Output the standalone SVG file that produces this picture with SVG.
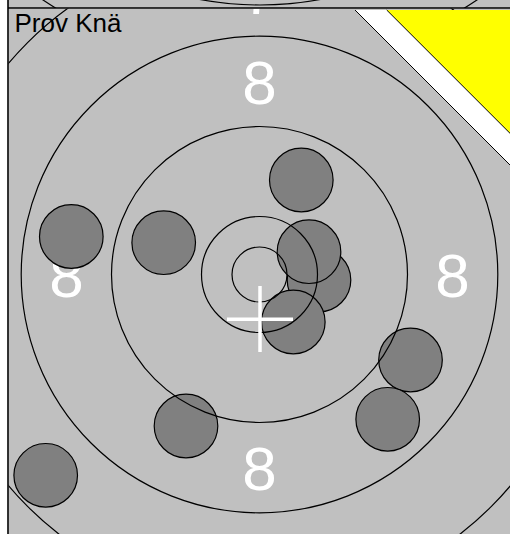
<svg xmlns="http://www.w3.org/2000/svg" width="510" height="534" viewBox="0 0 510 534">
<style>
.ring{fill:none;stroke:#000;stroke-width:1.2}
.shot{fill:#808080;stroke:#000;stroke-width:1.2}
.lbl{font-family:"Liberation Sans",Arial,sans-serif;font-size:62px;fill:#fff;text-anchor:middle}
</style>
<defs>
<clipPath id="topClip"><rect x="8" y="0" width="502" height="8"/></clipPath>
<clipPath id="mainClip"><rect x="8.5" y="8.5" width="501.5" height="525.5"/></clipPath>
</defs>
<rect x="0" y="0" width="510" height="534" fill="#fff"/>
<g id="upper-card" clip-path="url(#topClip)">
<rect x="8" y="0" width="502" height="8" fill="#c0c0c0"/>
<circle class="ring" cx="260" cy="-322.4" r="327.4"/>
<circle class="ring" cx="260" cy="-322.4" r="388.5"/>
</g>
<g id="main-card" clip-path="url(#mainClip)">
<rect x="8" y="8" width="502" height="526" fill="#c0c0c0"/>
<g id="labels">
<text class="lbl" x="259.5" y="13.7">7</text>
<text class="lbl" x="259.5" y="104">8</text>
<text class="lbl" x="66.5" y="296.7">8</text>
<text class="lbl" x="452.5" y="296.7">8</text>
<text class="lbl" x="259.5" y="489.7">8</text>
</g>
<g id="shots">
<circle id="shot1" class="shot" cx="301.3" cy="180" r="31.8"/>
<circle id="shot2" class="shot" cx="71.3" cy="236.5" r="31.8"/>
<circle id="shot3" class="shot" cx="163.7" cy="242.7" r="31.8"/>
<circle id="shot5" class="shot" cx="319" cy="280" r="31.8"/>
<circle id="shot4" class="shot" cx="309" cy="251.7" r="31.8"/>
<circle id="shot6" class="shot" cx="293.3" cy="322" r="31.8"/>
<circle id="shot7" class="shot" cx="410.5" cy="360" r="31.8"/>
<circle id="shot8" class="shot" cx="387.7" cy="419.3" r="31.8"/>
<circle id="shot9" class="shot" cx="186" cy="426" r="31.8"/>
<circle id="shot10" class="shot" cx="45.7" cy="475.3" r="31.8"/>
</g>
<g id="rings">
<circle class="ring" cx="259.5" cy="274.5" r="27.5"/>
<circle class="ring" cx="259.5" cy="274.5" r="58"/>
<circle class="ring" cx="259.5" cy="274.5" r="148"/>
<circle class="ring" cx="259.5" cy="274.5" r="238.3"/>
<circle class="ring" cx="259.5" cy="274.5" r="328"/>
</g>
<g id="cross" stroke="#fff" stroke-width="3.5">
<line x1="227" y1="319.3" x2="293" y2="319.3"/>
<line x1="260" y1="286" x2="260" y2="352"/>
</g>
<g id="corner">
<polygon points="355,10 530,10 530,185" fill="#fff"/>
<polygon points="386.7,10 530,10 530,153.3" fill="#ff0"/>
<line x1="355" y1="10" x2="530" y2="185" stroke="#000" stroke-width="1"/>
<line x1="386.7" y1="10" x2="530" y2="153.3" stroke="#000" stroke-width="1"/>
</g>
<text x="14.5" y="32" font-family="Liberation Sans, Arial, sans-serif" font-size="26" fill="#000">Prov Knä</text>
</g>
<g id="borders" stroke="#000" stroke-width="1.6">
<line x1="8" y1="0" x2="8" y2="534"/>
<line x1="8" y1="8" x2="510" y2="8"/>
</g>
</svg>
